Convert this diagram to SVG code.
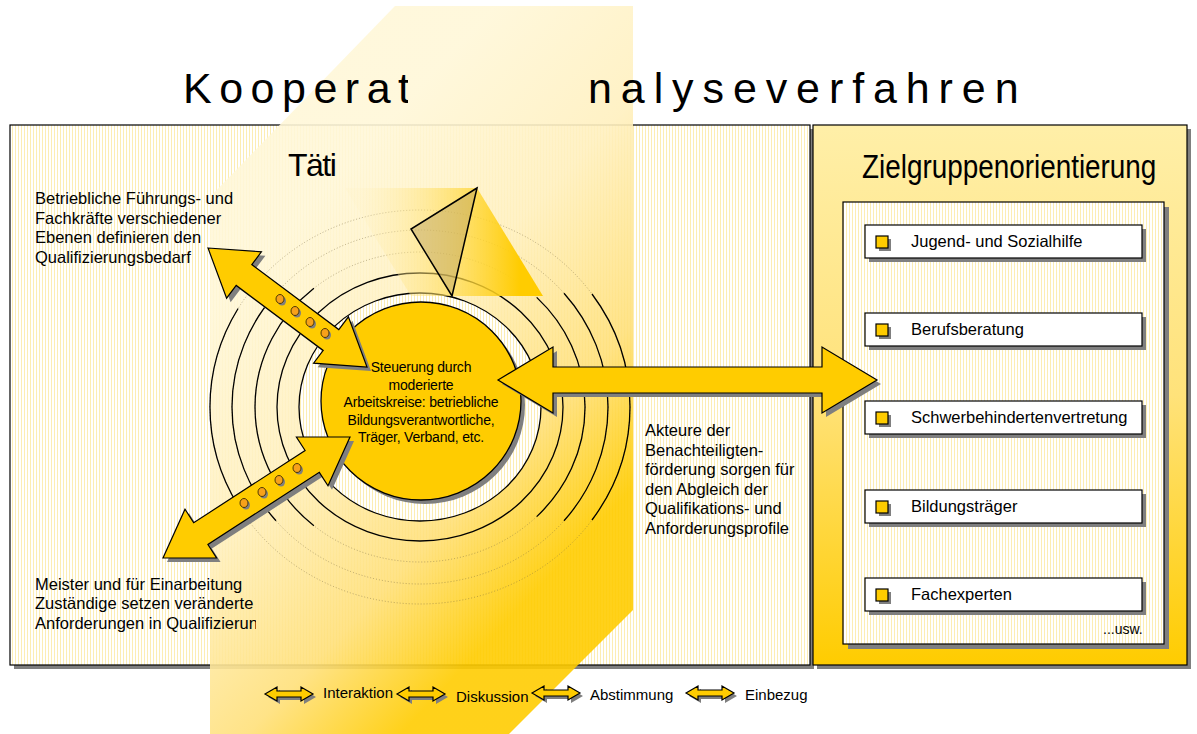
<svg xmlns="http://www.w3.org/2000/svg" width="1197" height="734" viewBox="0 0 1197 734">
<defs>
<style>
.t{font-family:"Liberation Sans",Arial,sans-serif;fill:#000}
.arrow{fill:#FFCC00;stroke:#000;stroke-width:1.2;stroke-linejoin:miter}
.shadow{fill:#7f7f7f}
.ring{fill:none;stroke:#000;stroke-width:1.3}
.faint{fill:none;stroke:#7a6a40;stroke-width:1;stroke-dasharray:1 2;opacity:.5}
.box{fill:#fff;stroke:#000;stroke-width:1.2}
.bullet{fill:#FFCC00;stroke:#000;stroke-width:1.2}
.dot{fill:#F7A11A;stroke:#3a2a00;stroke-width:.9}
</style>
<pattern id="stripes" width="3" height="10" patternUnits="userSpaceOnUse">
<rect width="3" height="10" fill="#fff"/>
<rect width="1" height="10" fill="#FCEDB4"/>
</pattern>
<linearGradient id="rightGrad" x1="0" y1="0" x2="0" y2="1">
<stop offset="0" stop-color="#FFEFA8"/>
<stop offset="0.5" stop-color="#FFE27A"/>
<stop offset="1" stop-color="#FFCC00"/>
</linearGradient>
<linearGradient id="overGrad" gradientUnits="userSpaceOnUse" x1="220" y1="300" x2="560" y2="620">
<stop offset="0" stop-color="#FFF7D8"/>
<stop offset="0.35" stop-color="#FFF0BF"/>
<stop offset="0.68" stop-color="#FFE07A"/>
<stop offset="0.92" stop-color="#FFCC00"/>
</linearGradient>
<linearGradient id="coneGrad" gradientUnits="userSpaceOnUse" x1="360" y1="0" x2="520" y2="0">
<stop offset="0" stop-color="#FFF0C0" stop-opacity="0.2"/>
<stop offset="1" stop-color="#FFCC00"/>
</linearGradient>
<clipPath id="titleClip">
<rect x="0" y="0" width="408" height="734"/>
<rect x="586" y="0" width="611" height="734"/>
</clipPath>
<clipPath id="leftTextClip">
<rect x="0" y="0" width="256" height="734"/>
</clipPath>
<path id="legArrow" d="M0,0 L12,-7 L12,-3 L36,-3 L36,-7 L48,0 L36,7 L36,3 L12,3 L12,7 Z"/>
</defs>

<rect width="1197" height="734" fill="#fff"/>

<g id="panel-left">
<rect x="14" y="129" width="800" height="540" class="shadow"/>
<rect x="10" y="125" width="800" height="540" fill="url(#stripes)" stroke="#000" stroke-width="1.2"/>
</g>

<g id="panel-right">
<rect x="817" y="129" width="374" height="540" class="shadow"/>
<rect x="813" y="125" width="374" height="540" fill="url(#rightGrad)" stroke="#000" stroke-width="1.2"/>
<text class="t" transform="translate(862,178) scale(0.845,1)" font-size="33">Zielgruppenorientierung</text>
<rect x="848" y="207" width="321" height="442" class="shadow"/>
<rect x="843" y="202" width="321" height="442" fill="url(#stripes)" stroke="#000" stroke-width="1.2"/>
<text class="t" x="1103" y="634" font-size="14">...usw.</text>
</g>

<g id="item-1">
<rect x="869" y="229" width="277" height="33" class="shadow"/>
<rect x="865" y="225" width="277" height="33" class="box"/>
<rect x="879" y="239" width="12" height="12" class="shadow"/>
<rect x="876" y="236" width="12" height="12" class="bullet"/>
<text class="t" x="911" y="247" font-size="16.5">Jugend- und Sozialhilfe</text>
</g>
<g id="item-2">
<rect x="869" y="317" width="277" height="33" class="shadow"/>
<rect x="865" y="313" width="277" height="33" class="box"/>
<rect x="879" y="327" width="12" height="12" class="shadow"/>
<rect x="876" y="324" width="12" height="12" class="bullet"/>
<text class="t" x="911" y="335" font-size="16.5">Berufsberatung</text>
</g>
<g id="item-3">
<rect x="869" y="405" width="277" height="33" class="shadow"/>
<rect x="865" y="401" width="277" height="33" class="box"/>
<rect x="879" y="415" width="12" height="12" class="shadow"/>
<rect x="876" y="412" width="12" height="12" class="bullet"/>
<text class="t" x="911" y="423" font-size="16.5">Schwerbehindertenvertretung</text>
</g>
<g id="item-4">
<rect x="869" y="494" width="277" height="33" class="shadow"/>
<rect x="865" y="490" width="277" height="33" class="box"/>
<rect x="879" y="504" width="12" height="12" class="shadow"/>
<rect x="876" y="501" width="12" height="12" class="bullet"/>
<text class="t" x="911" y="512" font-size="16.5">Bildungsträger</text>
</g>
<g id="item-5">
<rect x="869" y="582" width="277" height="33" class="shadow"/>
<rect x="865" y="578" width="277" height="33" class="box"/>
<rect x="879" y="592" width="12" height="12" class="shadow"/>
<rect x="876" y="589" width="12" height="12" class="bullet"/>
<text class="t" x="911" y="600" font-size="16.5">Fachexperten</text>
</g>

<g id="overlay">
<polygon points="395,6 633,6 633,610 509,734 210,734 210,197" fill="url(#overGrad)" opacity="0.9"/>
</g>

<g id="title">
<text class="t" clip-path="url(#titleClip)" x="183" y="103" font-size="43" letter-spacing="7.5">Kooperative <tspan x="540">A</tspan><tspan x="588" letter-spacing="8.9">nalyseverfahren</tspan></text>
</g>

<g id="rings">
<ellipse cx="420" cy="407" rx="165" ry="155" class="faint"/>
<ellipse cx="420" cy="407" rx="188" ry="177" class="faint"/>
<ellipse cx="420" cy="407" rx="210" ry="197" class="faint"/>
<ellipse cx="420" cy="407" rx="143" ry="134" class="ring"/>
<ellipse cx="420" cy="407" rx="121" ry="114" fill="url(#stripes)" stroke="#000" stroke-width="1.3"/>
<path class="ring" d="M313.9,288.3 A165,155 0 0 0 313.9,525.7"/>
<path class="ring" d="M276,293.2 A188,177 0 0 0 276,520.8"/>
<path class="ring" d="M238.1,308.5 A210,197 0 0 0 238.1,505.5"/>
<path class="ring" d="M536.7,297.4 A165,155 0 0 1 536.7,516.6"/>
<path class="ring" d="M564,293.2 A188,177 0 0 1 564,520.8"/>
<path class="ring" d="M592,294 A210,197 0 0 1 592,520"/>
</g>

<g id="cone">
<polygon points="345,188 477,188 543,296 411,296" fill="url(#coneGrad)"/>
<polygon points="477,188 411,229 452,296" fill="#B8A060" fill-opacity="0.45" stroke="#000" stroke-width="1.5" stroke-linejoin="miter"/>
</g>

<g id="center-circle">
<ellipse cx="425" cy="405" rx="100" ry="99" class="shadow"/>
<ellipse cx="421" cy="401" rx="100" ry="99" fill="#FFCC00" stroke="#000" stroke-width="1.3"/>
<g class="t" font-size="14" text-anchor="middle" letter-spacing="-0.2">
<text x="421" y="372">Steuerung durch</text>
<text x="421" y="390">moderierte</text>
<text x="421" y="407">Arbeitskreise: betriebliche</text>
<text x="421" y="425">Bildungsverantwortliche,</text>
<text x="421" y="442">Träger, Verband, etc.</text>
</g>
</g>

<g id="connectors">
<g transform="translate(4,4)" class="shadow">
<polygon points="208,248 261.4,251.8 251.8,264.6 338.8,329.6 348.4,316.8 367,367 313.6,363.2 323.2,350.4 236.2,285.4 226.6,298.2"/>
<polygon points="163,558 216.6,558 207.9,544.5 319.3,472.3 328,485.8 350,437 296.4,437 305.1,450.5 193.7,522.7 185,509.2"/>
<polygon points="498,380 553,347 553,367 822,367 822,347 877,380 822,413 822,393 553,393 553,413"/>
</g>
<polygon class="arrow" points="208,248 261.4,251.8 251.8,264.6 338.8,329.6 348.4,316.8 367,367 313.6,363.2 323.2,350.4 236.2,285.4 226.6,298.2"/>
<polygon class="arrow" points="163,558 216.6,558 207.9,544.5 319.3,472.3 328,485.8 350,437 296.4,437 305.1,450.5 193.7,522.7 185,509.2"/>
<polygon class="arrow" points="498,380 553,347 553,367 822,367 822,347 877,380 822,413 822,393 553,393 553,413"/>
<g class="shadow">
<ellipse cx="282" cy="301" rx="4" ry="4.5"/><ellipse cx="297" cy="313" rx="4" ry="4.5"/><ellipse cx="312" cy="324" rx="4" ry="4.5"/><ellipse cx="327" cy="335" rx="4" ry="4.5"/>
<ellipse cx="246" cy="505" rx="4" ry="4.5"/><ellipse cx="264" cy="494" rx="4" ry="4.5"/><ellipse cx="281" cy="482" rx="4" ry="4.5"/><ellipse cx="299" cy="470" rx="4" ry="4.5"/>
</g>
<g class="dot">
<ellipse cx="280" cy="299" rx="4" ry="4.5"/><ellipse cx="295" cy="311" rx="4" ry="4.5"/><ellipse cx="310" cy="322" rx="4" ry="4.5"/><ellipse cx="325" cy="333" rx="4" ry="4.5"/>
<ellipse cx="244" cy="503" rx="4" ry="4.5"/><ellipse cx="262" cy="492" rx="4" ry="4.5"/><ellipse cx="279" cy="480" rx="4" ry="4.5"/><ellipse cx="297" cy="468" rx="4" ry="4.5"/>
</g>
</g>

<g id="label-taeti">
<text class="t" x="288" y="176" font-size="32" letter-spacing="-1.5">Täti</text>
</g>

<g id="text-top-left" class="t" font-size="16.5">
<text x="35" y="204">Betriebliche Führungs- und</text>
<text x="35" y="224">Fachkräfte verschiedener</text>
<text x="35" y="243">Ebenen definieren den</text>
<text x="35" y="263">Qualifizierungsbedarf</text>
</g>

<g id="text-bottom-left" class="t" font-size="16.5" clip-path="url(#leftTextClip)">
<text x="35" y="590">Meister und für Einarbeitung</text>
<text x="35" y="609">Zuständige setzen veränderte</text>
<text x="35" y="629">Anforderungen in Qualifizierung</text>
</g>

<g id="text-right" class="t" font-size="16.5">
<text x="645" y="436">Akteure der</text>
<text x="645" y="456">Benachteiligten-</text>
<text x="645" y="475">förderung sorgen für</text>
<text x="645" y="495">den Abgleich der</text>
<text x="645" y="514">Qualifikations- und</text>
<text x="645" y="534">Anforderungsprofile</text>
</g>

<g id="legend">
<use href="#legArrow" x="268" y="697" class="shadow"/>
<use href="#legArrow" x="265" y="694" class="arrow"/>
<text class="t" x="323" y="698" font-size="15">Interaktion</text>
<use href="#legArrow" x="400" y="697" class="shadow"/>
<use href="#legArrow" x="397" y="694" class="arrow"/>
<text class="t" x="456" y="702" font-size="15">Diskussion</text>
<use href="#legArrow" x="535" y="696" class="shadow"/>
<use href="#legArrow" x="532" y="693" class="arrow"/>
<text class="t" x="590" y="700" font-size="15">Abstimmung</text>
<use href="#legArrow" x="689" y="696" class="shadow"/>
<use href="#legArrow" x="686" y="693" class="arrow"/>
<text class="t" x="745" y="700" font-size="15">Einbezug</text>
</g>
</svg>
